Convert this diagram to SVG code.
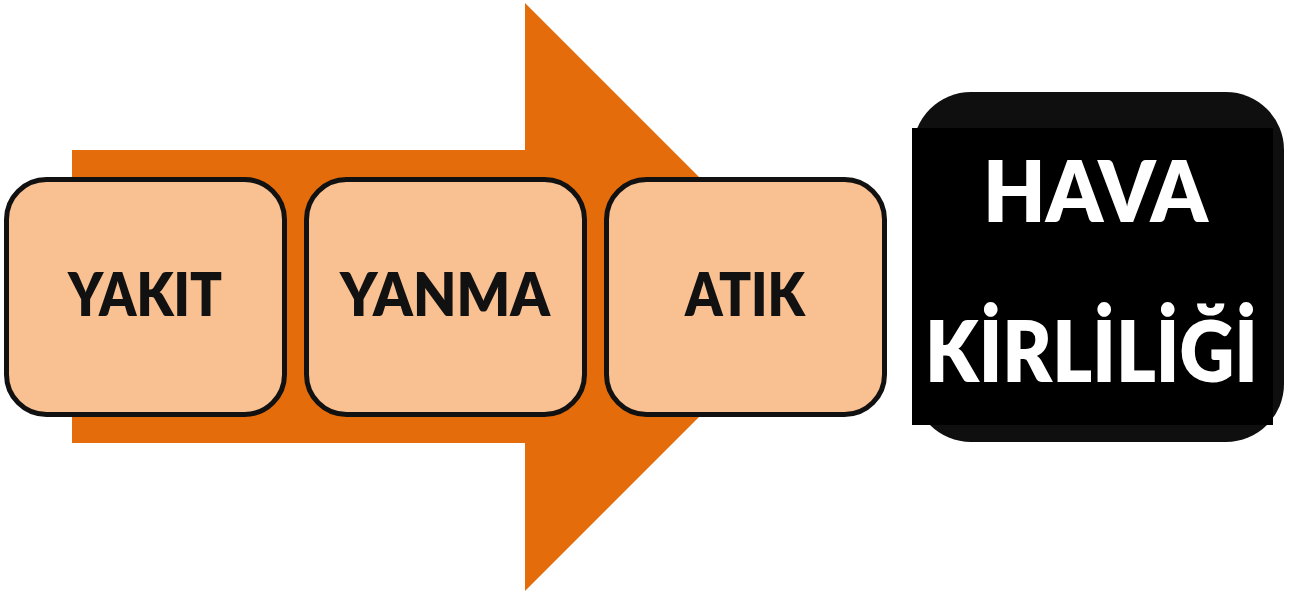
<svg xmlns="http://www.w3.org/2000/svg" width="1298" height="595" viewBox="0 0 1298 595">
<style>
.box{fill:#F9C092;stroke:#111111;stroke-width:5}
.lbl{font-family:Lato,"Open Sans","Liberation Sans",sans-serif;font-weight:800;font-size:60px;fill:#111111;text-anchor:middle}
.wl{font-family:Lato,"Open Sans","Liberation Sans",sans-serif;font-weight:800;font-size:86px;fill:#FFFFFF}
</style>
<rect width="1298" height="595" fill="#FFFFFF"/>
<g id="arrow">
<polygon points="72,150 525,150 525,3 819,297 525,591 525,443 72,443" fill="#E46C0A"/>
</g>
<g id="connectors"></g>
<g id="yakit">
<rect class="box" x="6.5" y="179.5" width="278" height="235" rx="40" ry="40"/>
<text class="lbl" x="145" y="316" textLength="154" lengthAdjust="spacingAndGlyphs">YAKIT</text>
</g>
<g id="yanma">
<rect class="box" x="306.5" y="179.5" width="278" height="235" rx="40" ry="40"/>
<text class="lbl" x="445" y="316" textLength="210" lengthAdjust="spacingAndGlyphs">YANMA</text>
</g>
<g id="atik">
<rect class="box" x="606.5" y="179.5" width="278" height="235" rx="40" ry="40"/>
<text class="lbl" x="745" y="316" textLength="120" lengthAdjust="spacingAndGlyphs">ATIK</text>
</g>
<g id="hava">
<rect x="913" y="92" width="371" height="350" rx="58" ry="58" fill="#0F0F0F"/>
<rect x="912" y="128" width="361" height="297" fill="#000000"/>
<text class="wl" x="983" y="222" textLength="225" lengthAdjust="spacingAndGlyphs">HAVA</text>
<text class="wl" x="925" y="382" textLength="333" lengthAdjust="spacingAndGlyphs">KİRLİLİĞİ</text>
</g>
</svg>
